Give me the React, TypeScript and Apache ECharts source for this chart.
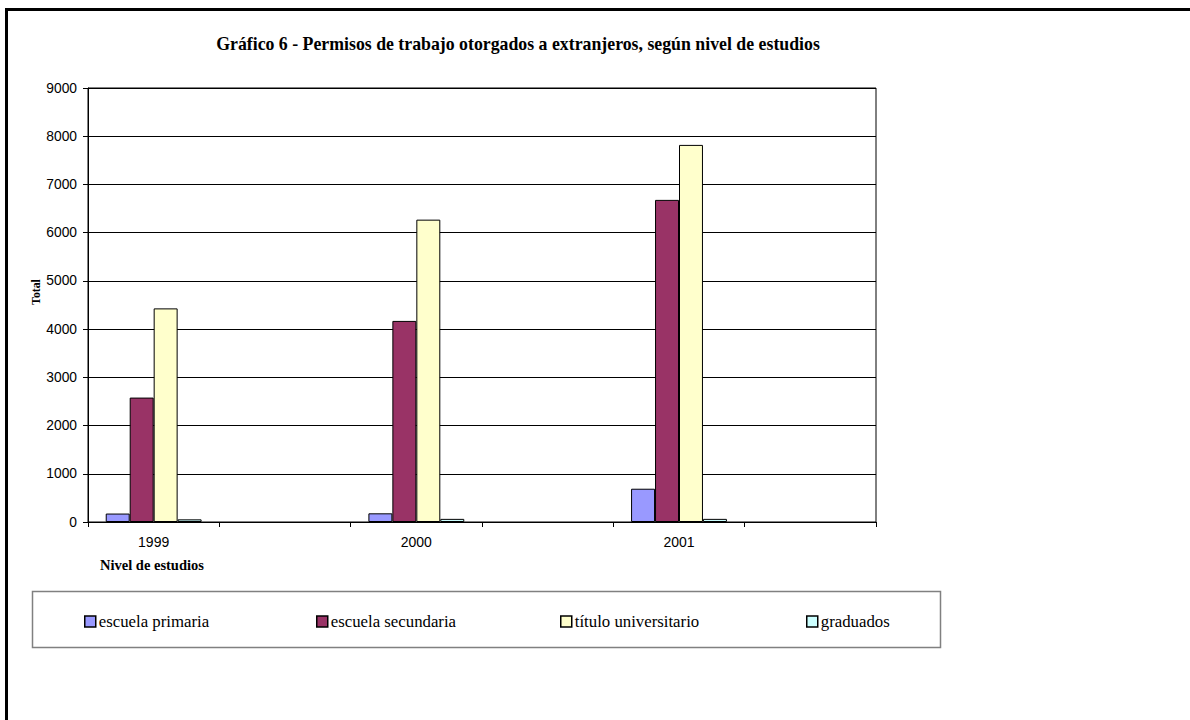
import React, { useEffect, useRef } from "react";
import * as echarts from "echarts";

const years = ["1999", "2000", "2001"];
const seriesNames = ["escuela primaria", "escuela secundaria", "título universitario", "graduados"];
const primaria = [175, 180, 690];
const secundaria = [2580, 4170, 6680];
const titulo = [4430, 6270, 7820];
const graduados = [55, 65, 65];
const colors = ["#9999FF", "#993366", "#FFFFCC", "#CCFFFF"];
const yTicks = { min: 0, max: 9000, interval: 1000 };

// each year is followed by an empty slot on the category axis, as in the original
const categories = years.flatMap((y, i) => [y, " ".repeat(i + 1)]);
const expand = (vals: number[]) => vals.flatMap((v) => [v, "-"]);

const SERIF = "'Liberation Serif', 'Times New Roman', serif";
const SANS = "'Liberation Sans', Arial, sans-serif";

const legendLefts = [84, 316, 560, 806];

export default function App() {
  const ref = useRef<HTMLDivElement>(null);
  useEffect(() => {
    if (!ref.current) return;
    const chart = echarts.init(ref.current, null, { renderer: "svg" });
    const data = [primaria, secundaria, titulo, graduados];
    chart.setOption({
      animation: false,
      backgroundColor: "#fff",
      title: {
        text: "Gráfico 6 - Permisos de trabajo otorgados a extranjeros, según nivel de estudios",
        left: 518,
        top: 35,
        textAlign: "center",
        padding: 0,
        textStyle: { fontFamily: SERIF, fontWeight: "bold", fontSize: 17.8, color: "#000" },
      },
      grid: {
        left: 88,
        right: 314,
        top: 88,
        bottom: 198,
        show: true,
        borderColor: "#000",
        borderWidth: 1,
        backgroundColor: "#fff",
      },
      legend: seriesNames.map((n, i) => ({
        data: [n],
        left: legendLefts[i],
        top: 613,
        padding: 0,
        icon: "rect",
        itemWidth: 11,
        itemHeight: 11,
        selectedMode: false,
        itemStyle: { borderColor: "#000", borderWidth: 1.5 },
        textStyle: { fontFamily: SERIF, fontSize: 16.8, color: "#000", padding: [0, 0, 0, -2] },
      })),
      xAxis: {
        type: "category",
        data: categories,
        axisLine: { lineStyle: { color: "#000", width: 1 } },
        axisTick: { show: true, interval: 0, length: 5, lineStyle: { color: "#000" } },
        axisLabel: { interval: 0, margin: 13, fontFamily: SANS, fontSize: 14, color: "#000" },
        splitLine: { show: false },
      },
      yAxis: {
        type: "value",
        min: yTicks.min,
        max: yTicks.max,
        interval: yTicks.interval,
        name: "Total",
        nameLocation: "middle",
        nameGap: 46,
        nameMoveOverlap: false,
        nameTextStyle: {
          fontFamily: SERIF,
          fontWeight: "bold",
          fontSize: 11.8,
          color: "#000",
          padding: [0, 0, 0, 26],
        },
        axisLine: { show: true, lineStyle: { color: "#000", width: 1 } },
        axisTick: { show: true, length: 5, lineStyle: { color: "#000" } },
        axisLabel: {
          margin: 11,
          fontFamily: SANS,
          fontSize: 13.8,
          color: "#000",
          formatter: (v: number) => String(v),
        },
        splitLine: { show: true, lineStyle: { color: "#000", width: 1 } },
      },
      series: seriesNames.map((n, i) => ({
        name: n,
        type: "bar",
        data: expand(data[i]),
        barGap: "0%",
        barCategoryGap: "27%",
        itemStyle: { color: colors[i], borderColor: "#000", borderWidth: 1 },
      })),
      graphic: [
        {
          type: "rect",
          shape: { x: 6.5, y: 9.5, width: 1400, height: 1000 },
          style: { fill: "none", stroke: "#000", lineWidth: 3 },
          z: 100,
          silent: true,
        },
        {
          type: "rect",
          shape: { x: 32.5, y: 591.5, width: 908, height: 56 },
          style: { fill: "none", stroke: "#808080", lineWidth: 1.5 },
          z: 100,
          silent: true,
        },
        {
          type: "text",
          x: 100,
          y: 565,
          style: {
            text: "Nivel de estudios",
            fontFamily: SERIF,
            fontWeight: "bold",
            fontSize: 14.5,
            fill: "#000",
            textAlign: "left",
            textVerticalAlign: "middle",
          },
        },
      ],
    });
    return () => chart.dispose();
  }, []);
  return (
    <div
      ref={ref}
      style={{ position: "fixed", left: 0, top: 0, width: 1190, height: 720, background: "#fff" }}
    />
  );
}
